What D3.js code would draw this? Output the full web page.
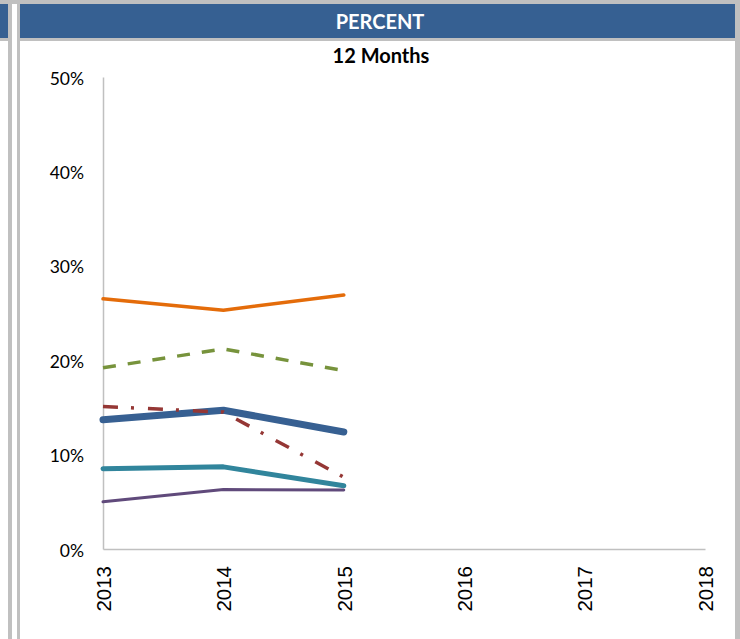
<!DOCTYPE html>
<html><head><meta charset="utf-8">
<script src="https://cdn.jsdelivr.net/npm/d3@7"></script>
<style>html,body{margin:0;padding:0;background:#fff;}svg{display:block;}</style>
</head><body>
<script>
const years = [2013, 2014, 2015];
const axisYears = [2013, 2014, 2015, 2016, 2017, 2018];
const yTicks = [0, 0.1, 0.2, 0.3, 0.4, 0.5];
const orangeVals = [0.265, 0.253, 0.269];
const greenVals = [0.192, 0.212, 0.189];
const blueVals = [0.137, 0.147, 0.124];
const redVals = [0.151, 0.145, 0.076];
const tealVals = [0.085, 0.087, 0.067];
const purpleVals = [0.050, 0.063, 0.0625];
const headerText = "PERCENT";
const titleText = "12 Months";

const series = [
  {name: "orange", values: orangeVals, color: "#E46C0A", width: 3.5, dash: null},
  {name: "green", values: greenVals, color: "#77933C", width: 3.5, dash: "13,12"},
  {name: "blue", values: blueVals, color: "#376092", width: 7, dash: null},
  {name: "red", values: redVals, color: "#953735", width: 3.5, dash: "15,13,3,14"},
  {name: "teal", values: tealVals, color: "#31859C", width: 5, dash: null},
  {name: "purple", values: purpleVals, color: "#604A7B", width: 3, dash: null}
];

const W = 740, H = 639;
const svg = d3.select("body").append("svg").attr("width", W).attr("height", H);
const gray = "#C0C0C0";

// frame pieces
svg.append("rect").attr("x", 0).attr("y", 0).attr("width", W).attr("height", 4).attr("fill", gray);
svg.append("rect").attr("x", 0).attr("y", 4).attr("width", 8).attr("height", 34).attr("fill", "#366092");
svg.append("rect").attr("x", 0).attr("y", 38).attr("width", 8).attr("height", 3).attr("fill", gray);
svg.append("rect").attr("x", 20).attr("y", 4).attr("width", 715).attr("height", 34).attr("fill", "#366092");
svg.append("rect").attr("x", 20).attr("y", 38).attr("width", 715).attr("height", 3).attr("fill", gray);
svg.append("rect").attr("x", 8).attr("y", 0).attr("width", 4).attr("height", H).attr("fill", gray);
svg.append("rect").attr("x", 17).attr("y", 0).attr("width", 3).attr("height", H).attr("fill", gray);
svg.append("rect").attr("x", 735).attr("y", 0).attr("width", 5).attr("height", H).attr("fill", gray);

svg.append("text").attr("x", 380).attr("y", 29).attr("text-anchor", "middle")
  .attr("font-family", "Lato, 'Open Sans', sans-serif").attr("font-weight", "bold").attr("font-size", 20)
  .attr("fill", "#fff").text(headerText);
svg.append("text").attr("x", 381).attr("y", 63).attr("text-anchor", "middle")
  .attr("font-family", "Lato, 'Open Sans', sans-serif").attr("font-weight", "bold").attr("font-size", 20)
  .attr("fill", "#000").text(titleText);

const x = d3.scaleLinear().domain([2013, 2018]).range([103, 705]);
const y = d3.scaleLinear().domain([0, 0.5]).range([549, 77]);

const yAxis = svg.append("g").attr("transform", "translate(103,0)")
  .call(d3.axisLeft(y).tickValues(yTicks).tickFormat(d3.format(".0%")).tickSize(0).tickPadding(19));
yAxis.select(".domain").attr("stroke", gray).attr("stroke-width", 1.5);
yAxis.selectAll("text").attr("font-family", "Lato, 'Open Sans', sans-serif").attr("font-size", 17.5).attr("fill", "#000").attr("dy", "0.4em");

const xAxis = svg.append("g").attr("transform", "translate(0,549)")
  .call(d3.axisBottom(x).tickValues(axisYears).tickFormat(d3.format("d")).tickSize(0).tickSizeOuter(0));
xAxis.select(".domain").attr("stroke", gray).attr("stroke-width", 1.5);
xAxis.selectAll("text").attr("font-family", "'Liberation Sans', Arial, sans-serif").attr("font-size", 20.5).attr("fill", "#000")
  .attr("text-anchor", "end").attr("transform", "rotate(-90)").attr("x", -17).attr("y", 0).attr("dy", "0.36em");

const line = d3.line().x((d, i) => x(years[i])).y(d => y(d));
svg.append("g").selectAll("path").data(series).join("path")
  .attr("d", d => line(d.values))
  .attr("fill", "none")
  .attr("stroke", d => d.color)
  .attr("stroke-width", d => d.width)
  .attr("stroke-dasharray", d => d.dash)
  .attr("stroke-linejoin", "round")
  .attr("stroke-linecap", d => d.dash ? "butt" : "round");
</script>
</body></html>
